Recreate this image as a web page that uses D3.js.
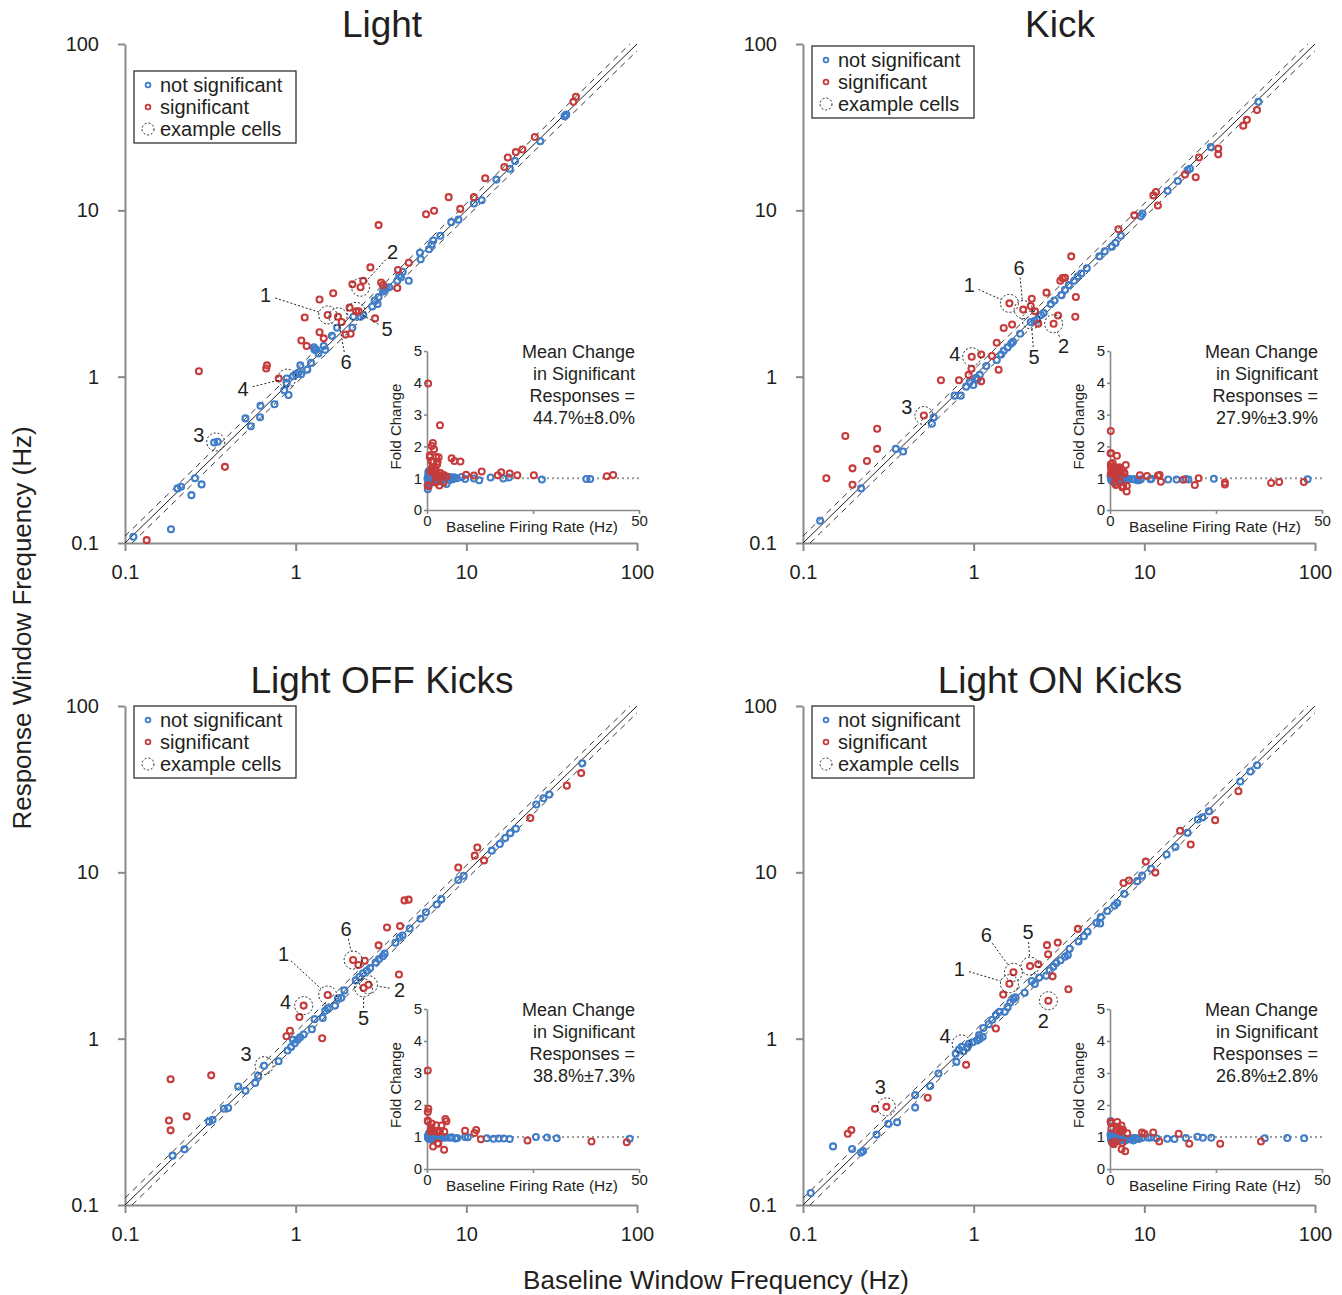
<!DOCTYPE html>
<html>
<head>
<meta charset="utf-8">
<script src="https://cdn.jsdelivr.net/npm/d3@7"></script>
<style>
  body { margin: 0; background: #fff; }
  svg text { font-family: "Liberation Sans", Arial, sans-serif; fill: #231f20; }
</style>
</head>
<body>
<div id="chart"></div>
<script>
// [baseline Hz, response Hz] for each cell
const lightNS = [[0.112,0.109],[0.186,0.121],[0.203,0.213],[0.213,0.218],[0.245,0.194],[0.257,0.245],[0.281,0.225],[0.333,0.402],[0.349,0.406],[0.508,0.561],[0.546,0.503],[0.619,0.570],[0.622,0.668],[0.751,0.682],[0.857,0.828],[0.908,0.776],[0.886,0.914],[0.886,0.975],[0.967,1.01],[1.005,1.035],[1.04,1.06],[1.076,1.035],[1.065,1.17],[1.17,1.1],[1.23,1.21],[1.28,1.50],[1.32,1.45],[1.29,1.45],[1.46,1.53],[1.49,1.45],[1.36,1.38],[1.63,1.76],[1.75,1.97],[2.15,1.97],[2.18,2.29],[2.40,2.29],[2.49,2.35],[2.81,2.64],[3.02,2.73],[2.90,2.87],[3.06,3.01],[3.25,3.25],[3.41,3.41],[3.53,3.45],[3.33,3.33],[3.94,3.77],[4.14,3.96],[4.04,4.06],[4.24,4.27],[4.60,3.77],[5.40,5.08],[5.35,5.56],[6.04,5.84],[6.25,6.21],[6.40,6.59],[7.05,7.03],[8.16,8.49],[8.99,8.79],[11.07,10.99],[12.3,11.5],[15.0,15.3],[18.0,17.8],[19.3,19.8],[27.1,26.0],[37.6,36.8],[38.5,37.6]];
const lightSig = [[0.134,0.104],[0.271,1.077],[0.385,0.287],[0.672,1.12],[0.679,1.17],[0.796,0.975],[1.08,1.65],[1.16,1.53],[1.13,2.27],[1.38,2.91],[1.66,3.17],[1.38,1.85],[1.46,1.70],[1.54,2.35],[1.77,2.29],[1.86,2.13],[1.96,1.79],[2.10,1.81],[2.07,2.60],[2.26,2.47],[2.34,2.47],[2.15,3.59],[2.49,3.77],[2.40,3.45],[2.74,4.54],[2.92,2.24],[3.06,8.15],[3.17,3.68],[3.25,3.55],[3.94,3.41],[3.98,4.38],[4.60,4.84],[5.81,9.47],[6.47,9.95],[7.88,12.0],[9.21,10.2],[11.07,12.0],[12.9,15.6],[16.7,18.2],[17.5,20.8],[19.5,22.4],[21.3,23.2],[25.2,27.6],[42.4,44.9],[43.9,48.2]];

const kickNS = [[0.126,0.136],[0.219,0.213],[0.350,0.368],[0.386,0.355],[0.569,0.521],[0.583,0.570],[0.773,0.769],[0.840,0.769],[0.903,0.871],[0.948,0.929],[0.995,0.891],[1.035,0.986],[1.086,1.025],[1.055,0.961],[1.186,1.16],[1.365,1.26],[1.45,1.36],[1.50,1.43],[1.58,1.50],[1.66,1.58],[1.70,1.62],[1.87,1.81],[2.16,2.13],[2.27,2.16],[2.36,2.20],[2.57,2.41],[2.48,2.35],[2.83,2.73],[2.97,2.87],[3.27,3.09],[3.43,3.33],[3.61,3.55],[3.88,3.77],[4.07,4.00],[4.27,4.17],[4.60,4.49],[5.45,5.29],[5.86,5.67],[6.46,6.05],[6.78,6.36],[7.29,7.03],[9.53,9.23],[9.75,9.57],[13.7,13.1],[15.7,15.0],[17.9,17.4],[18.5,17.8],[24.5,24.0],[46.6,44.9]];
const kickSig = [[0.137,0.245],[0.177,0.440],[0.195,0.281],[0.195,0.224],[0.237,0.311],[0.272,0.486],[0.272,0.368],[0.511,0.584],[0.643,0.951],[0.820,0.951],[0.934,1.025],[0.971,1.116],[0.974,1.318],[1.107,1.36],[1.107,0.937],[1.28,1.33],[1.365,1.60],[1.40,1.10],[1.50,1.96],[1.68,2.06],[1.62,2.76],[1.95,2.53],[2.19,2.94],[2.16,2.66],[2.29,2.47],[2.39,2.08],[2.67,3.20],[2.94,2.08],[3.12,2.33],[3.22,3.77],[3.32,3.91],[3.43,3.93],[3.73,5.29],[3.97,3.01],[3.94,2.29],[7.05,7.69],[8.73,9.33],[11.3,12.3],[11.7,12.9],[12.0,10.7],[17.3,16.4],[20.0,15.8],[20.9,20.8],[27.1,23.5],[27.1,21.7],[38.0,32.3],[39.9,35.0],[45.7,40.1]];

const offNS = [[0.190,0.198],[0.223,0.216],[0.311,0.317],[0.326,0.325],[0.380,0.379],[0.402,0.383],[0.461,0.516],[0.508,0.486],[0.579,0.542],[0.602,0.598],[0.653,0.688],[0.794,0.731],[0.896,0.849],[0.94,0.891],[0.987,0.937],[1.026,0.986],[1.062,1.02],[1.114,1.06],[0.964,0.986],[1.245,1.14],[1.29,1.31],[1.44,1.33],[1.49,1.47],[1.54,1.52],[1.70,1.58],[1.77,1.75],[1.85,1.76],[1.93,1.95],[2.25,2.24],[2.36,2.35],[2.48,2.47],[2.61,2.56],[2.73,2.66],[2.94,2.87],[3.08,3.01],[3.24,3.13],[3.32,3.25],[3.84,3.77],[4.07,4.06],[4.23,4.17],[4.66,4.60],[5.39,5.26],[5.80,5.75],[6.70,6.41],[7.14,6.90],[8.97,8.99],[9.64,9.53],[14.1,13.5],[15.7,14.8],[16.9,16.1],[18.1,17.2],[19.5,18.3],[25.7,25.6],[28.3,27.9],[30.6,29.4],[47.8,45.2]];
const offSig = [[0.185,0.570],[0.181,0.322],[0.185,0.281],[0.230,0.341],[0.320,0.602],[0.883,1.035],[0.926,1.116],[1.052,1.35],[1.114,1.58],[1.43,1.005],[1.54,1.83],[2.17,2.97],[2.33,2.77],[2.54,2.94],[2.50,2.02],[2.67,2.11],[3.06,3.64],[3.43,4.66],[4.03,2.43],[4.09,4.75],[4.34,6.78],[4.59,6.85],[8.97,10.7],[11.2,12.6],[11.6,14.1],[12.7,11.8],[23.7,21.2],[38.8,33.2],[47.1,39.5]];

const onNS = [[0.111,0.118],[0.150,0.225],[0.194,0.217],[0.219,0.207],[0.225,0.211],[0.270,0.265],[0.316,0.308],[0.356,0.314],[0.454,0.458],[0.454,0.385],[0.556,0.519],[0.622,0.617],[0.792,0.725],[0.785,0.811],[0.82,0.861],[0.852,0.892],[0.873,0.84],[0.916,0.883],[0.939,0.93],[0.986,0.952],[1.05,0.976],[1.086,1.0],[1.13,1.026],[1.076,1.052],[1.14,1.16],[1.225,1.22],[1.285,1.30],[1.35,1.38],[1.42,1.45],[1.52,1.45],[1.58,1.55],[1.64,1.65],[1.71,1.73],[1.76,1.77],[1.99,1.89],[2.19,2.22],[2.28,2.13],[2.42,2.33],[2.66,2.39],[2.79,2.58],[2.93,2.71],[3.05,2.85],[3.23,2.96],[3.43,3.11],[3.56,3.18],[3.65,3.47],[4.12,3.84],[4.43,4.13],[4.65,4.39],[5.25,4.97],[5.51,4.92],[5.56,5.38],[6.07,5.86],[6.69,6.31],[6.92,6.53],[7.62,7.43],[9.08,8.85],[9.71,9.55],[10.96,10.5],[13.5,12.8],[15.2,14.2],[17.9,17.3],[20.6,20.8],[21.9,21.4],[23.9,23.3],[36.5,35.2],[41.8,40.4],[45.8,44.0]];
const onSig = [[0.183,0.268],[0.192,0.282],[0.264,0.379],[0.308,0.389],[0.538,0.441],[0.903,0.696],[1.35,1.15],[1.49,1.84],[1.62,2.14],[1.71,2.51],[2.14,2.73],[2.39,2.80],[2.69,3.65],[2.73,3.22],[3.11,3.78],[2.90,2.37],[2.74,1.69],[3.59,1.98],[4.08,4.57],[7.55,8.63],[8.12,8.93],[10.2,11.6],[11.6,9.96],[16.2,17.8],[18.7,14.7],[26.0,20.6],[35.6,30.7]];

// example cells: [label, baseline, response]
const lightEx = [["1",1.54,2.35],["2",2.40,3.45],["3",0.34,0.405],["4",0.89,0.98],["5",2.26,2.47],["6",1.77,2.29]];
const kickEx  = [["1",1.62,2.76],["2",2.94,2.08],["3",0.511,0.584],["4",0.974,1.318],["5",2.17,2.19],["6",1.95,2.53]];
const offEx   = [["1",1.54,1.83],["2",2.67,2.11],["3",0.653,0.688],["4",1.114,1.58],["5",2.50,2.02],["6",2.17,2.97]];
const onEx    = [["1",1.62,2.14],["2",2.74,1.69],["3",0.308,0.389],["4",0.845,0.93],["5",2.14,2.73],["6",1.71,2.51]];

const titles = ["Light", "Kick", "Light OFF Kicks", "Light ON Kicks"];
const meanChange = ["44.7%±8.0%", "27.9%±3.9%", "38.8%±7.3%", "26.8%±2.8%"];
const meanLines = ["Mean Change", "in Significant", "Responses ="];
const legendLabels = ["not significant", "significant", "example cells"];
const tickVals = [0.1, 1, 10, 100];
const tickLabels = ["0.1", "1", "10", "100"];
const insetYTicks = [0, 1, 2, 3, 4, 5];
const insetXTicks = [0, 25, 50];
const insetXLabels = ["0", "", "50"];

// layout
const colX = [[125, 637], [803, 1315]];
const rowY = [[543, 44], [1205, 706]];
const insetX = [[427, 639], [1110, 1322]];
const insetY = [[510, 351], [1169, 1009]];
const titleY = [37, 693];
const legendDy = [27, 2, 0, 0];
const labelOffsets = [
  {"1":[-62,-20],"2":[32,-35],"3":[-17,-7],"4":[-44,11],"5":[31,18],"6":[8,45]},
  {"1":[-40,-18],"2":[10,22],"3":[-17,-9],"4":[-17,-3],"5":[3,37],"6":[-4,-42]},
  {"1":[-44,-41],"2":[31,5],"3":[-18,-12],"4":[-18,-4],"5":[0,30],"6":[-7,-31]},
  {"1":[-50,-15],"2":[-5,20],"3":[-6,-20],"4":[-16,-8],"5":[-2,-34],"6":[-27,-37]}
];

const BLUE = "#3f7dc8", RED = "#c63b3b", AXIS = "#8a8a8a", INK = "#231f20";

const panels = [
  { ns: lightNS, sig: lightSig, ex: lightEx, col: 0, row: 0 },
  { ns: kickNS,  sig: kickSig,  ex: kickEx,  col: 1, row: 0 },
  { ns: offNS,   sig: offSig,   ex: offEx,   col: 0, row: 1 },
  { ns: onNS,    sig: onSig,    ex: onEx,    col: 1, row: 1 }
];

const svg = d3.select("#chart").append("svg")
  .attr("width", 1342)
  .attr("height", 1295);

function styleAxis(ax, size) {
  ax.select(".domain").attr("stroke", AXIS).attr("stroke-width", 2);
  ax.selectAll(".tick line").attr("stroke", AXIS).attr("stroke-width", 2);
  ax.selectAll(".tick text").style("font-size", size + "px");
}

panels.forEach((p, pi) => {
  const x = d3.scaleLog().domain([0.1, 100]).range(colX[p.col]);
  const y = d3.scaleLog().domain([0.1, 100]).range(rowY[p.row]);
  const g = svg.append("g");
  const x0 = colX[p.col][0], yBottom = rowY[p.row][0], yTop = rowY[p.row][1];

  g.append("text")
    .attr("x", (colX[p.col][0] + colX[p.col][1]) / 2 + 1)
    .attr("y", titleY[p.row])
    .attr("text-anchor", "middle")
    .style("font-size", "37px")
    .text(titles[pi]);

  // axes
  const ya = g.append("g")
    .attr("transform", `translate(${x0},0)`)
    .call(d3.axisLeft(y).tickValues(tickVals).tickFormat((d, i) => tickLabels[i])
      .tickSize(7).tickSizeOuter(0).tickPadding(19));
  styleAxis(ya, 20);

  const xa = g.append("g")
    .attr("transform", `translate(0,${yBottom})`)
    .call(d3.axisBottom(x).tickValues(tickVals).tickFormat((d, i) => tickLabels[i])
      .tickSize(8).tickSizeOuter(0).tickPadding(14));
  styleAxis(xa, 20);

  // unity line and +/-10% guides
  g.append("line")
    .attr("x1", x(0.1)).attr("y1", y(0.1)).attr("x2", x(100)).attr("y2", y(100))
    .attr("stroke", INK).attr("stroke-width", 1);
  [[0.1, 0.11, 90.9, 100], [0.11, 0.1, 100, 90.9]].forEach(s => {
    g.append("line")
      .attr("x1", x(s[0])).attr("y1", y(s[1])).attr("x2", x(s[2])).attr("y2", y(s[3]))
      .attr("stroke", INK).attr("stroke-width", 0.9)
      .attr("stroke-dasharray", "6,5");
  });

  // cells
  [[p.ns, BLUE], [p.sig, RED]].forEach(([data, col]) => {
    g.selectAll(null).data(data).enter().append("circle")
      .attr("cx", d => x(d[0]))
      .attr("cy", d => y(d[1]))
      .attr("r", 3)
      .attr("fill", "none")
      .attr("stroke", col)
      .attr("stroke-width", 2.1);
  });

  // example cells
  p.ex.forEach(e => {
    const px = x(e[1]), py = y(e[2]);
    const off = labelOffsets[pi][e[0]];
    const lx = px + off[0], ly = py + off[1];
    g.append("circle")
      .attr("cx", px).attr("cy", py).attr("r", 9)
      .attr("fill", "none").attr("stroke", INK)
      .attr("stroke-width", 1).attr("stroke-dasharray", "2,2");
    const dist = Math.hypot(off[0], off[1]);
    if (dist > 24) {
      const ux = -off[0] / dist, uy = -off[1] / dist;
      g.append("line")
        .attr("x1", lx + ux * 10).attr("y1", ly + uy * 10)
        .attr("x2", px - ux * 9).attr("y2", py - uy * 9)
        .attr("stroke", INK).attr("stroke-width", 1)
        .attr("stroke-dasharray", "2,2");
    }
    g.append("text")
      .attr("x", lx).attr("y", ly + 7)
      .attr("text-anchor", "middle")
      .style("font-size", "20px")
      .text(e[0]);
  });

  // legend
  const lg = g.append("g")
    .attr("transform", `translate(${x0 + 9},${yTop + legendDy[pi]})`);
  lg.append("rect")
    .attr("width", 162).attr("height", 72)
    .attr("fill", "#fff").attr("stroke", INK).attr("stroke-width", 1.2);
  legendLabels.forEach((lab, i) => {
    const cy = 14 + i * 22;
    if (i < 2) {
      lg.append("circle").attr("cx", 14).attr("cy", cy).attr("r", 2.4)
        .attr("fill", "none").attr("stroke", i === 0 ? BLUE : RED).attr("stroke-width", 1.8);
    } else {
      lg.append("circle").attr("cx", 14).attr("cy", cy).attr("r", 6)
        .attr("fill", "none").attr("stroke", INK).attr("stroke-width", 1)
        .attr("stroke-dasharray", "2,2");
    }
    lg.append("text").attr("x", 26).attr("y", cy + 7)
      .style("font-size", "20px").text(lab);
  });

  // inset: fold change vs baseline
  const ix = d3.scaleLinear().domain([0, 50]).range(insetX[p.col]);
  const iy = d3.scaleLinear().domain([0, 5]).range(insetY[p.row]);
  const ig = g.append("g");

  ig.append("line")
    .attr("x1", ix(0)).attr("x2", ix(50)).attr("y1", iy(1)).attr("y2", iy(1))
    .attr("stroke", "#999").attr("stroke-width", 2).attr("stroke-dasharray", "2,3");

  const iya = ig.append("g")
    .attr("transform", `translate(${ix(0)},0)`)
    .call(d3.axisLeft(iy).tickValues(insetYTicks).tickFormat(d3.format("d"))
      .tickSize(3).tickSizeOuter(0).tickPadding(2));
  styleAxis(iya, 15);
  iya.select(".domain").attr("stroke-width", 1.6);
  iya.selectAll(".tick line").attr("stroke-width", 1.6);

  const ixa = ig.append("g")
    .attr("transform", `translate(0,${iy(0)})`)
    .call(d3.axisBottom(ix).tickValues(insetXTicks).tickFormat((d, i) => insetXLabels[i])
      .tickSize(4).tickSizeOuter(0).tickPadding(1));
  styleAxis(ixa, 15);
  ixa.select(".domain").attr("stroke-width", 1.6);
  ixa.selectAll(".tick line").attr("stroke-width", 1.6);

  [[p.ns, BLUE], [p.sig, RED]].forEach(([data, col]) => {
    ig.selectAll(null).data(data).enter().append("circle")
      .attr("cx", d => ix(d[0]))
      .attr("cy", d => iy(d[1] / d[0]))
      .attr("r", 3)
      .attr("fill", "none")
      .attr("stroke", col)
      .attr("stroke-width", 2);
  });

  ig.append("text")
    .attr("transform", `translate(${ix(0) - 26},${(iy(0) + iy(5)) / 2 - 4}) rotate(-90)`)
    .attr("text-anchor", "middle")
    .style("font-size", "15px")
    .text("Fold Change");
  ig.append("text")
    .attr("x", (ix(0) + ix(50)) / 2 - 1)
    .attr("y", iy(0) + 22)
    .attr("text-anchor", "middle")
    .style("font-size", "15.4px")
    .text("Baseline Firing Rate (Hz)");

  meanLines.concat([meanChange[pi]]).forEach((t, i) => {
    ig.append("text")
      .attr("x", ix(50) - 4)
      .attr("y", iy(5) + 7 + i * 22)
      .attr("text-anchor", "end")
      .style("font-size", "18px")
      .text(t);
  });
});

svg.append("text")
  .attr("transform", "translate(31,628) rotate(-90)")
  .attr("text-anchor", "middle")
  .style("font-size", "26px")
  .text("Response Window Frequency (Hz)");

svg.append("text")
  .attr("x", 716)
  .attr("y", 1289)
  .attr("text-anchor", "middle")
  .style("font-size", "26px")
  .text("Baseline Window Frequency (Hz)");
</script>
</body>
</html>
